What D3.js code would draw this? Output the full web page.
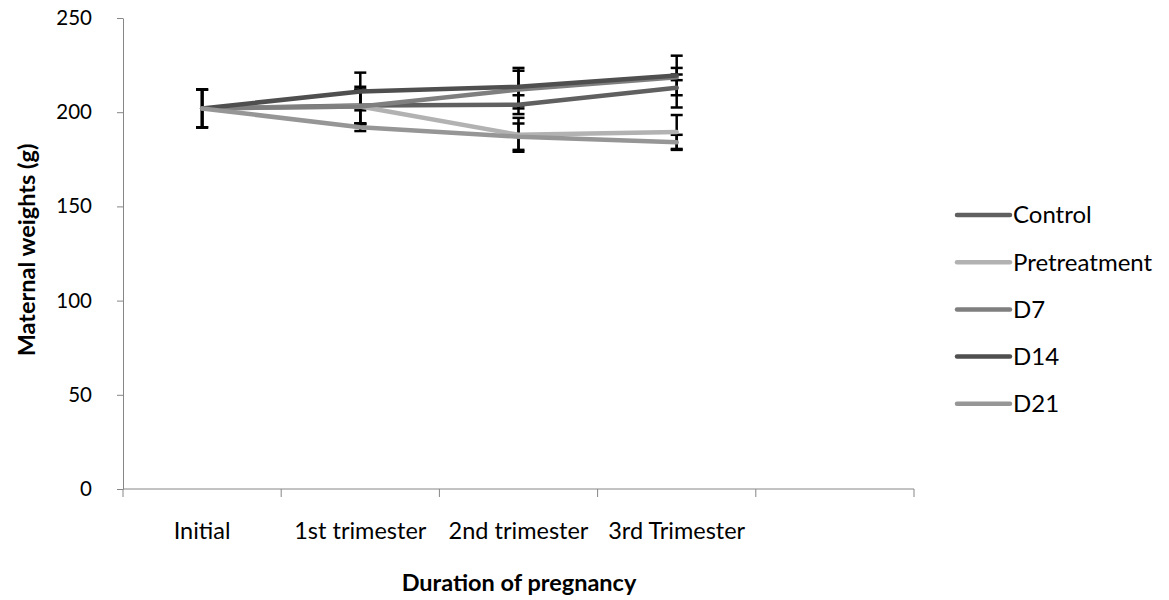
<!DOCTYPE html>
<html>
<head>
<meta charset="utf-8">
<script src="https://cdn.jsdelivr.net/npm/d3@7"></script>
<style>
  html, body { margin: 0; padding: 0; background: #fff; }
  svg { display: block; font-family: Lato, "Open Sans", sans-serif; }
</style>
</head>
<body>
<svg id="chart" width="1169" height="600"></svg>
<script>
// ---- data ----
const categories = ["Initial", "1st trimester", "2nd trimester", "3rd Trimester", ""];
const seriesNames = ["Control", "Pretreatment", "D7", "D14", "D21"];
const control      = [202, 203.5, 204, 213];
const pretreatment = [202, 203, 188, 189.5];
const d7           = [202, 203, 212, 218.5];
const d14          = [202, 211, 213.5, 219.5];
const d21          = [202, 192, 187, 184];
const controlErr      = [10, 10, 5, 10.5];
const pretreatmentErr = [10, 9, 9, 9];
const d7Err           = [10, 9, 10, 1.5];
const d14Err          = [10, 10, 10, 10.5];
const d21Err          = [10, 2, 7, 4];
const yTicks = [0, 50, 100, 150, 200, 250];
const seriesColors = ["#606060", "#b2b2b2", "#7f7f7f", "#4f4f4f", "#969696"];

const seriesValues = [control, pretreatment, d7, d14, d21];
const seriesErrors = [controlErr, pretreatmentErr, d7Err, d14Err, d21Err];

// ---- layout ----
const svg = d3.select("#chart");
const plotLeft = 123, plotRight = 914, plotTop = 18, plotBottom = 489;
const axisColor = "#868686";

const x = d3.scaleBand().domain(categories.map((c, i) => i)).range([plotLeft, plotRight]).padding(0);
const y = d3.scaleLinear().domain([0, 250]).range([plotBottom, plotTop]);
const cx = i => x(i) + x.bandwidth() / 2;

// Y axis
const yAxis = svg.append("g").attr("transform", `translate(${plotLeft},0)`)
  .call(d3.axisLeft(y).tickValues(yTicks).tickSize(6).tickPadding(25).tickSizeOuter(0));
yAxis.select(".domain").attr("stroke", axisColor);
yAxis.selectAll(".tick line").attr("stroke", axisColor);
yAxis.selectAll(".tick text").attr("font-size", 20.5).attr("fill", "#000")
  .attr("font-family", "Lato, 'Open Sans', sans-serif");

// X axis line + boundary ticks
const xg = svg.append("g");
xg.append("line").attr("x1", plotLeft).attr("x2", plotRight).attr("y1", plotBottom).attr("y2", plotBottom)
  .attr("stroke", axisColor);
const boundaries = categories.map((c, i) => x(i)).concat([x(categories.length - 1) + x.bandwidth()]);
xg.selectAll("line.tk").data(boundaries).enter().append("line").attr("class", "tk")
  .attr("x1", d => d).attr("x2", d => d).attr("y1", plotBottom).attr("y2", plotBottom + 8)
  .attr("stroke", axisColor);
xg.selectAll("text").data(categories).enter().append("text")
  .attr("x", (d, i) => cx(i)).attr("y", 539)
  .attr("text-anchor", "middle").attr("font-size", 23.5).attr("fill", "#000")
  .text(d => d);

// Axis titles
svg.append("text").attr("x", 519).attr("y", 591).attr("text-anchor", "middle")
  .attr("font-size", 23.5).attr("font-weight", "bold").attr("fill", "#000")
  .text("Duration of pregnancy");
svg.append("text").attr("transform", "translate(35,250) rotate(-90)").attr("text-anchor", "middle")
  .attr("font-size", 23.5).attr("font-weight", "bold").attr("fill", "#000")
  .text("Maternal weights  (g)");

// Error bars (under lines)
const eg = svg.append("g");
seriesValues.forEach((vals, s) => {
  vals.forEach((v, i) => {
    const e = seriesErrors[s][i];
    const px = cx(i);
    eg.append("line").attr("x1", px).attr("x2", px).attr("y1", y(v + e)).attr("y2", y(v - e))
      .attr("stroke", "#000").attr("stroke-width", 2.5);
    [v + e, v - e].forEach(t => {
      eg.append("line").attr("x1", px - 6).attr("x2", px + 6).attr("y1", y(t)).attr("y2", y(t))
        .attr("stroke", "#000").attr("stroke-width", 2.5);
    });
  });
});

// Lines
const line = d3.line().x((d, i) => cx(i)).y(d => y(d));
seriesValues.forEach((vals, s) => {
  svg.append("path").datum(vals).attr("d", line).attr("fill", "none")
    .attr("stroke", seriesColors[s]).attr("stroke-width", 4.5)
    .attr("stroke-linecap", "round").attr("stroke-linejoin", "round");
});

// Legend
const lg = svg.append("g");
seriesNames.forEach((name, s) => {
  const ly = 215 + s * 47.2;
  lg.append("line").attr("x1", 957).attr("x2", 1010).attr("y1", ly).attr("y2", ly)
    .attr("stroke", seriesColors[s]).attr("stroke-width", 4.5).attr("stroke-linecap", "round");
  lg.append("text").attr("x", 1013).attr("y", ly).attr("dy", "0.35em")
    .attr("font-size", 24).attr("fill", "#000").text(name);
});
</script>
</body>
</html>
